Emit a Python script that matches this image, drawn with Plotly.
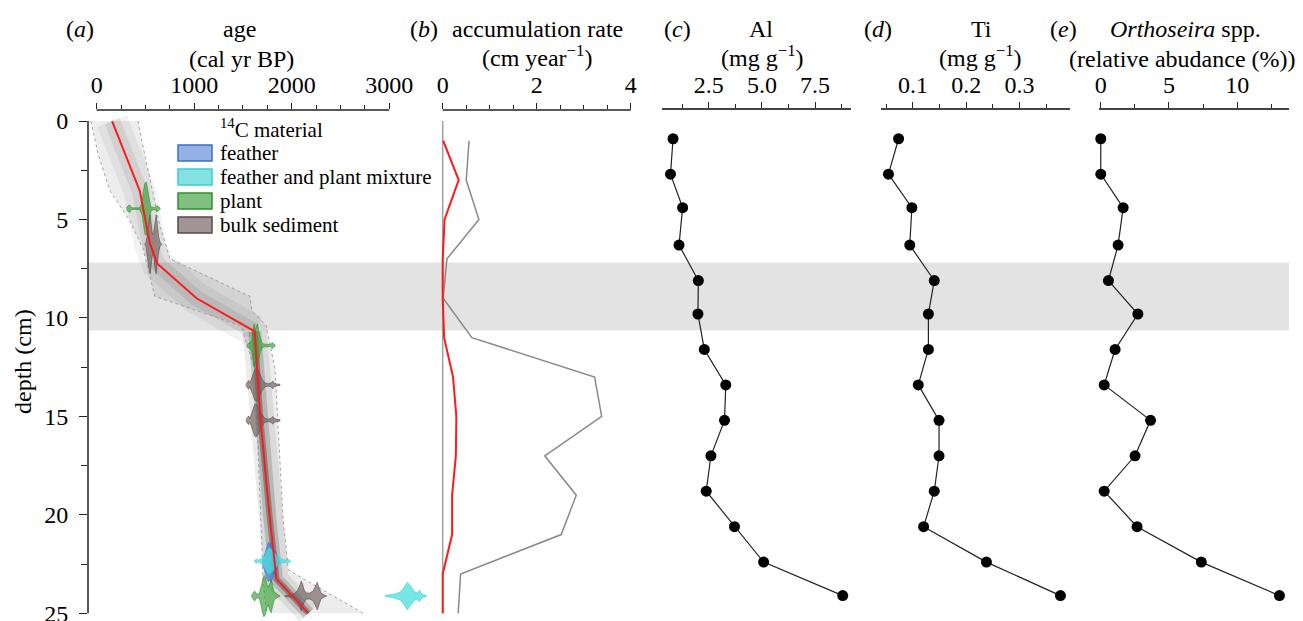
import plotly.graph_objects as go

# ---------------- data ----------------
# geochemistry / diatom samples
depth_geo = [0.9, 2.7, 4.4, 6.3, 8.1, 9.8, 11.6, 13.4, 15.2, 17.0, 18.8, 20.6, 22.4, 24.1]
al = [0.82, 0.70, 1.27, 1.10, 2.01, 1.99, 2.29, 3.30, 3.24, 2.60, 2.38, 3.71, 5.08, 8.80]
ti = [0.073, 0.054, 0.098, 0.094, 0.140, 0.129, 0.129, 0.110, 0.149, 0.149, 0.140, 0.120, 0.238, 0.377]
ortho = [0.0, 0.0, 1.64, 1.27, 0.56, 2.72, 1.05, 0.25, 3.65, 2.51, 0.25, 2.66, 7.37, 13.1]

# accumulation rate (cm / year)
depth_acc = [1, 3, 5, 7, 9, 11, 13, 15, 17, 19, 21, 23, 25]
acc_median = [0.01, 0.34, 0.04, 0.0, 0.0, 0.03, 0.22, 0.29, 0.28, 0.20, 0.20, 0.0, 0.0]
acc_upper = [0.56, 0.50, 0.77, 0.09, 0.01, 0.62, 3.23, 3.38, 2.17, 2.84, 2.52, 0.38, 0.33]
depth_acc_lower = [0, 25]
acc_lower = [0.0, 0.0]

# age-depth model (cal yr BP)
depth_median = [0, 3.55, 6.2, 7.23, 9.0, 10.68, 15.2, 20.2, 23.26, 25]
age_median = [158, 442, 545, 620, 1024, 1620, 1680, 1776, 1844, 2171]
depth_min = [0, 1.7, 3.55, 5.07, 6.5, 8.9, 10.4, 12.6, 21.3, 23.3, 25]
age_min = [-60, 16, 136, 341, 476, 596, 1480, 1620, 1692, 1705, 1745]
depth_max = [0, 0.9, 5.3, 7.0, 8.9, 9.6, 10.4, 12.6, 20.2, 22.8, 25]
age_max = [425, 459, 647, 752, 1572, 1590, 1740, 1829, 1911, 1966, 2734]

# calibrated 14C dates: material, depth, age profile and half-height of the density
date_material = ["plant", "bulk sediment", "plant", "bulk sediment", "bulk sediment",
                 "feather", "feather and plant mixture", "plant", "bulk sediment",
                 "feather and plant mixture"]
date_depth = [4.45, 6.26, 11.4, 13.4, 15.2, 22.4, 22.35, 24.12, 24.12, 24.12]
date_ages = [
    [305, 322, 340, 360, 440, 465, 480, 495, 510, 525, 540, 555, 600, 615, 630, 650],
    [492, 505, 520, 535, 548, 560, 572, 585, 598, 610, 622, 635, 650, 664],
    [1538, 1555, 1572, 1590, 1602, 1614, 1626, 1638, 1650, 1662, 1675, 1690, 1705, 1740, 1780, 1800, 1815, 1829],
    [1530, 1545, 1558, 1572, 1590, 1605, 1620, 1635, 1650, 1665, 1680, 1700, 1725, 1760, 1790, 1805, 1820, 1845, 1880],
    [1530, 1545, 1558, 1572, 1590, 1605, 1620, 1635, 1650, 1665, 1680, 1700, 1725, 1760, 1790, 1805, 1820, 1845, 1880],
    [1700, 1715, 1730, 1745, 1760, 1775, 1790, 1805, 1820, 1835, 1850, 1862, 1875],
    [1615, 1640, 1660, 1690, 1720, 1745, 1770, 1795, 1820, 1845, 1870, 1900, 1935, 1960, 1985],
    [1585, 1600, 1620, 1640, 1665, 1685, 1700, 1715, 1730, 1745, 1760, 1775, 1790, 1805, 1820, 1840, 1860, 1877],
    [1930, 1960, 1990, 2025, 2055, 2080, 2098, 2112, 2128, 2150, 2185, 2220, 2245, 2262, 2278, 2300, 2330, 2355],
    [2955, 2990, 3030, 3070, 3110, 3140, 3165, 3185, 3205, 3230, 3260, 3290, 3310, 3325, 3350, 3380],
]
date_halfheight = [
    [0.03, 0.15, 0.18, 0.04, 0.04, 0.3, 0.9, 1.3, 1.35, 1.0, 0.5, 0.1, 0.04, 0.15, 0.12, 0.03],
    [0.03, 0.1, 0.5, 1.2, 1.5, 1.0, 0.5, 0.6, 1.2, 1.5, 1.0, 0.4, 0.1, 0.03],
    [0.03, 0.12, 0.15, 0.3, 0.7, 1.1, 0.8, 1.0, 1.1, 0.7, 0.4, 0.2, 0.08, 0.05, 0.05, 0.15, 0.08, 0.03],
    [0.03, 0.15, 0.22, 0.1, 0.3, 0.55, 0.75, 0.85, 0.8, 0.65, 0.45, 0.25, 0.1, 0.06, 0.1, 0.2, 0.1, 0.05, 0.03],
    [0.03, 0.15, 0.22, 0.1, 0.35, 0.6, 0.8, 0.85, 0.75, 0.6, 0.4, 0.25, 0.1, 0.06, 0.1, 0.2, 0.1, 0.05, 0.03],
    [0.05, 0.3, 0.6, 0.85, 1.0, 0.9, 1.0, 0.85, 0.6, 0.55, 0.35, 0.15, 0.03],
    [0.03, 0.1, 0.06, 0.12, 0.3, 0.55, 0.7, 0.6, 0.45, 0.3, 0.15, 0.08, 0.06, 0.1, 0.03],
    [0.03, 0.12, 0.25, 0.1, 0.1, 0.45, 0.85, 1.05, 0.95, 0.6, 0.45, 0.7, 0.85, 0.5, 0.2, 0.15, 0.05, 0.03],
    [0.02, 0.04, 0.05, 0.12, 0.25, 0.5, 0.75, 0.6, 0.3, 0.15, 0.15, 0.25, 0.5, 0.7, 0.45, 0.15, 0.05, 0.02],
    [0.03, 0.05, 0.08, 0.12, 0.2, 0.35, 0.55, 0.7, 0.6, 0.4, 0.22, 0.15, 0.3, 0.15, 0.06, 0.03],
]

materials = ["feather", "feather and plant mixture", "plant", "bulk sediment"]

# hiatus / disturbed layer (cm)
band_top, band_bottom = 7.18, 10.64

# tick labels
age_ticks = [0, 1000, 2000, 3000]
age_minor = [250, 500, 750, 1250, 1500, 1750, 2250, 2500, 2750]
acc_ticks = [0, 2, 4]
depth_ticks = [0, 5, 10, 15, 20, 25]

# ---------------- styles ----------------
FONT = "Liberation Serif, Times New Roman, serif"
fill_col = {"feather": "rgba(58,118,214,0.7)",
            "feather and plant mixture": "rgba(72,222,222,0.75)",
            "plant": "rgba(52,160,52,0.65)",
            "bulk sediment": "rgba(112,92,92,0.65)"}
line_col = {"feather": "#3a6fc8", "feather and plant mixture": "#38cfd4",
            "plant": "#2f8f2f", "bulk sediment": "#5a4848"}
swatch_col = {"feather": "#93b1e4", "feather and plant mixture": "#84e2e2",
              "plant": "#80c080", "bulk sediment": "#a39595"}

W, H = 1303, 621
ML, MR, MT, MB = 88, 14, 110, 0
PW = W - ML - MR
PH = H - MT - MB


def px_x(px):
    return (px - ML) / PW


def px_y(py):
    return (H - MB - py) / PH


fig = go.Figure()

# ---- panel a: age model ----
fig.add_trace(go.Scatter(x=age_min + age_max[::-1], y=depth_min + depth_max[::-1],
                         fill="toself", fillcolor="rgba(0,0,0,0.07)", line=dict(width=0),
                         mode="lines", xaxis="x", yaxis="y", hoverinfo="skip", showlegend=False))
# softer spread of probability in the upper part, denser below the hiatus
split = depth_median.index(10.68)
upper_d, upper_a = depth_median[:split + 1], age_median[:split + 1]
lower_d, lower_a = depth_median[split:], age_median[split:]
for ds, ag, layers in [(upper_d, upper_a, [(32, 0.05), (16, 0.07)]),
                       (lower_d, lower_a, [(24, 0.08), (13, 0.16), (6, 0.28)])]:
    for w, a in layers:
        fig.add_trace(go.Scatter(x=ag, y=ds, mode="lines",
                                 line=dict(color=f"rgba(0,0,0,{a})", width=w),
                                 xaxis="x", yaxis="y", hoverinfo="skip", showlegend=False))
for ds, ag in [(depth_min, age_min), (depth_max, age_max)]:
    fig.add_trace(go.Scatter(x=ag, y=ds, mode="lines",
                             line=dict(color="#9a9a9a", width=0.9, dash="dot"),
                             xaxis="x", yaxis="y", showlegend=False))

for mat, d, ages, hh in zip(date_material, date_depth, date_ages, date_halfheight):
    xs = ages + ages[::-1]
    ys = [d - h for h in hh] + [d + h for h in hh[::-1]]
    fig.add_trace(go.Scatter(x=xs, y=ys, fill="toself", fillcolor=fill_col[mat],
                             line=dict(color=line_col[mat], width=0.6), mode="lines",
                             name=mat, xaxis="x", yaxis="y", showlegend=False))

fig.add_trace(go.Scatter(x=age_median, y=depth_median, mode="lines",
                         line=dict(color="#ff1a1a", width=2), xaxis="x", yaxis="y",
                         name="median age", showlegend=False))

# ---- panel b: accumulation rate ----
fig.add_trace(go.Scatter(x=acc_lower, y=depth_acc_lower, mode="lines",
                         line=dict(color="#a0a0a0", width=1.5), xaxis="x2", yaxis="y", showlegend=False))
fig.add_trace(go.Scatter(x=acc_upper, y=depth_acc, mode="lines",
                         line=dict(color="#8a8a8a", width=1.5), xaxis="x2", yaxis="y", showlegend=False))
fig.add_trace(go.Scatter(x=acc_median, y=depth_acc, mode="lines",
                         line=dict(color="#ff1a1a", width=2), xaxis="x2", yaxis="y", showlegend=False))

# ---- panels c-e ----
for xa, vals in [("x3", al), ("x4", ti), ("x5", ortho)]:
    fig.add_trace(go.Scatter(x=vals, y=depth_geo, mode="lines+markers",
                             line=dict(color="#222", width=1.2),
                             marker=dict(color="black", size=11),
                             xaxis=xa, yaxis="y", showlegend=False, cliponaxis=False))

# ---------------- axes ----------------
tickfont = dict(family=FONT, size=24, color="black")
common = dict(side="top", anchor="y", ticks="outside", ticklen=6, tickwidth=1.3,
              tickcolor="#222", showgrid=False, zeroline=False, tickfont=tickfont,
              automargin=False)

fig.update_layout(
    xaxis=dict(domain=[0, px_x(430)], range=[-89, 3418], tickmode="array",
               tickvals=age_ticks, showline=False,
               minor=dict(tickmode="array", tickvals=age_minor, ticks="outside", ticklen=4,
                          tickcolor="#222", showgrid=False), **common),
    xaxis2=dict(domain=[px_x(438), px_x(636)], range=[-0.1, 4.11], tickmode="array",
                tickvals=acc_ticks, showline=False,
                minor=dict(dtick=0.5, ticks="outside", ticklen=4, tickcolor="#222", showgrid=False),
                **common),
    xaxis3=dict(domain=[px_x(662), px_x(851)], range=[0.3, 9.19], dtick=2.5, tick0=0,
                tickformat=".1f", showline=True, linecolor="#444", linewidth=1.8,
                minor=dict(dtick=1.25, ticks="outside", ticklen=4, tickcolor="#222", showgrid=False),
                **common),
    xaxis4=dict(domain=[px_x(881), px_x(1069.5)], range=[0.04, 0.394], dtick=0.1, tick0=0,
                showline=True, linecolor="#444", linewidth=1.8,
                minor=dict(dtick=0.05, ticks="outside", ticklen=4, tickcolor="#222", showgrid=False),
                **common),
    xaxis5=dict(domain=[px_x(1099), 1.0], range=[-0.13, 13.8], dtick=5, tick0=0,
                showline=True, linecolor="#444", linewidth=1.8,
                minor=dict(dtick=2.5, ticks="outside", ticklen=4, tickcolor="#222", showgrid=False),
                **common),
    yaxis=dict(domain=[0, 1], range=[25.39, -0.56], anchor="x", tickmode="array",
               tickvals=depth_ticks, ticks="outside", ticklen=8, tickwidth=1.3, tickcolor="#222",
               showline=False, showgrid=False, zeroline=False, tickfont=tickfont,
               ticklabelstandoff=6, ticklabeloverflow="allow", automargin=False,
               minor=dict(dtick=2.5, ticks="outside", ticklen=6, tickcolor="#222", showgrid=False)),
)

shapes = []
# grey band across all panels
shapes.append(dict(type="rect", xref="paper", yref="y", x0=0, x1=1, y0=band_top, y1=band_bottom,
                   fillcolor="#e3e3e3", line=dict(width=0), layer="below"))
# capped axis lines
shapes.append(dict(type="line", xref="paper", yref="y", x0=0, x1=0, y0=depth_ticks[0], y1=depth_ticks[-1],
                   line=dict(color="#222", width=1.5)))
shapes.append(dict(type="line", xref="x", yref="paper", x0=age_ticks[0], x1=age_ticks[-1], y0=1, y1=1,
                   line=dict(color="#222", width=1.5)))
shapes.append(dict(type="line", xref="x2", yref="paper", x0=acc_ticks[0], x1=acc_ticks[-1], y0=1, y1=1,
                   line=dict(color="#222", width=1.5)))

# legend (drawn manually to reproduce rectangular swatches)
row_y = [153, 177, 201, 225]
annotations = []
for mat, ry in zip(materials, row_y):
    shapes.append(dict(type="rect", xref="paper", yref="paper", x0=px_x(178), x1=px_x(212),
                       y0=px_y(ry + 8), y1=px_y(ry - 8), fillcolor=swatch_col[mat],
                       line=dict(color=line_col[mat], width=1.5)))
    annotations.append(dict(text=mat, xref="paper", yref="paper", x=px_x(218), y=px_y(ry),
                            xanchor="left", yanchor="middle", showarrow=False,
                            font=dict(family=FONT, size=21, color="black")))
annotations.append(dict(text="<sup>14</sup>C material", xref="paper", yref="paper", x=px_x(218),
                        y=px_y(128), xanchor="left", yanchor="middle", showarrow=False,
                        font=dict(family=FONT, size=21, color="black")))

# panel titles
titles = [
    ("(<i>a</i>)", 80, 29), ("age", 239, 29), ("(cal yr BP)", 241, 59),
    ("(<i>b</i>)", 424, 29), ("accumulation rate", 537, 29), ("(cm year<sup>\u22121</sup>)", 537, 56),
    ("(<i>c</i>)", 677, 29), ("Al", 761, 29), ("(mg g<sup>\u22121</sup>)", 762, 56),
    ("(<i>d</i>)", 878, 29), ("Ti", 981, 29), ("(mg g<sup>\u22121</sup>)", 980, 56),
    ("(<i>e</i>)", 1063, 29), ("<i>Orthoseira</i> spp.", 1185, 29),
    ("(relative abudance (%))", 1182, 59),
]
for txt, px, py in titles:
    annotations.append(dict(text=txt, xref="paper", yref="paper", x=px_x(px), y=px_y(py),
                            xanchor="center", yanchor="middle", showarrow=False,
                            font=dict(family=FONT, size=24, color="black")))
annotations.append(dict(text="depth (cm)", xref="paper", yref="paper", x=px_x(23), y=px_y(362),
                        xanchor="center", yanchor="middle", showarrow=False, textangle=-90,
                        font=dict(family=FONT, size=24, color="black")))

fig.update_layout(
    width=W, height=H,
    margin=dict(l=ML, r=MR, t=MT, b=MB, autoexpand=False),
    paper_bgcolor="white", plot_bgcolor="white",
    shapes=shapes, annotations=annotations,
    showlegend=False,
    font=dict(family=FONT, color="black"),
)

fig.write_html("out.html")
